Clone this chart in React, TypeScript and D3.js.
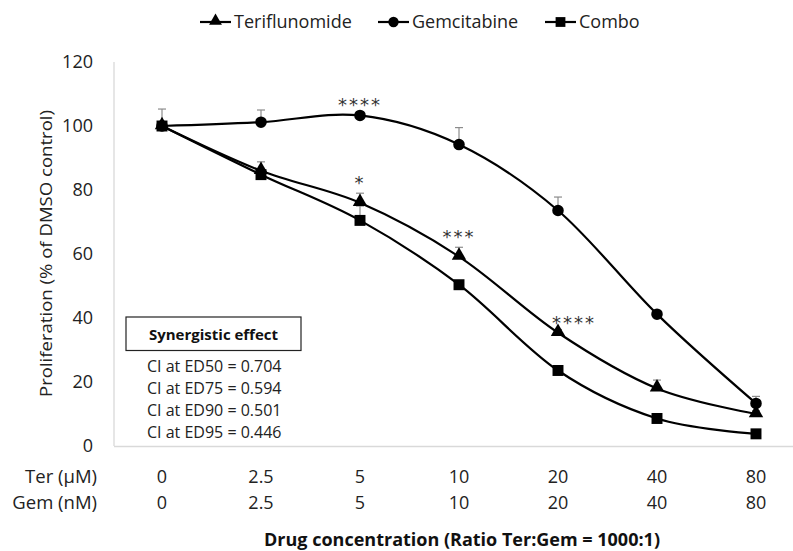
import * as d3 from "d3";
import React, { useEffect, useRef } from "react";

// dose labels (Ter in µM, Gem in nM, ratio 1000:1)
const terDoses = ["0", "2.5", "5", "10", "20", "40", "80"];
const gemDoses = ["0", "2.5", "5", "10", "20", "40", "80"];
const yTicks = [0, 20, 40, 60, 80, 100, 120];

// proliferation, % of DMSO control
const teriflunomide = [100, 86, 76, 59.2, 35.4, 18, 10];
const gemcitabine = [100, 101.2, 103.3, 94.2, 73.6, 41.2, 13.3];
const combo = [100, 84.8, 70.5, 50.4, 23.6, 8.6, 3.8];

// upper error bars (SD)
const terErr = [0, 2.8, 3, 2.9, 1, 2.6, 1];
const gemErr = [5.3, 3.8, 0.5, 5.3, 4.2, 0.8, 2.2];
const comboErr = [0.8, 0.8, 4.5, 0.8, 0.8, 0.8, 0.8];

const seriesNames = ["Teriflunomide", "Gemcitabine", "Combo"];

// significance marks: [doseIndex, value anchor, text, dx]
const stars: [number, number, string, number][] = [
    [2, 103.3, "****", 0],
    [2, 79, "*", 0],
    [3, 62.1, "***", 0],
    [4, 35.4, "****", 16],
];

const ciLines = [
    "CI at ED50 = 0.704",
    "CI at ED75 = 0.594",
    "CI at ED90 = 0.501",
    "CI at ED95 = 0.446",
];

const W = 793;
const H = 551;
const FONT = "'Open Sans', Lato, sans-serif";

export default function App() {
    const ref = useRef<SVGSVGElement>(null);

    useEffect(() => {
        const svg = d3.select(ref.current);
        svg.selectAll("*").remove();

        const x = d3.scaleBand().domain(terDoses.map((_, i) => String(i))).range([112.5, 805.5]);
        const cx = (i: number) => (x(String(i)) as number) + x.bandwidth() / 2;
        const y = d3.scaleLinear().domain([0, 120]).range([446, 62]);

        const g = svg.append("g");

        // axes
        g.append("line")
            .attr("x1", 114).attr("x2", 114)
            .attr("y1", y(120)).attr("y2", y(0))
            .attr("stroke", "#d9d9d9").attr("stroke-width", 1.3);
        g.append("line")
            .attr("x1", 114).attr("x2", W)
            .attr("y1", y(0) + 0.5).attr("y2", y(0) + 0.5)
            .attr("stroke", "#d9d9d9").attr("stroke-width", 1.3);

        g.selectAll(null)
            .data(yTicks)
            .enter()
            .append("text")
            .attr("x", 93)
            .attr("y", (d) => y(d))
            .attr("dy", "0.35em")
            .attr("text-anchor", "end")
            .style("font-size", "18px")
            .style("font-family", FONT)
            .attr("fill", "#222")
            .text((d) => d);

        g.append("text")
            .attr("transform", `translate(52, 253.5) rotate(-90)`)
            .attr("text-anchor", "middle")
            .attr("textLength", 287)
            .attr("lengthAdjust", "spacingAndGlyphs")
            .style("font-size", "16px")
            .style("font-family", FONT)
            .attr("fill", "#222")
            .text("Proliferation (% of DMSO control)");

        // dose rows
        const rows: [string, string[], number][] = [
            ["Ter (µM)", terDoses, 483],
            ["Gem (nM)", gemDoses, 509],
        ];
        rows.forEach(([label, vals, yy]) => {
            g.append("text")
                .attr("x", 97).attr("y", yy)
                .attr("text-anchor", "end")
                .style("font-size", "18.5px")
                .style("font-family", FONT)
                .attr("fill", "#222")
                .text(label);
            g.selectAll(null)
                .data(vals)
                .enter()
                .append("text")
                .attr("x", (_, i) => cx(i))
                .attr("y", yy)
                .attr("text-anchor", "middle")
                .style("font-size", "18px")
                .style("font-family", FONT)
                .attr("fill", "#222")
                .text((d) => d);
        });

        g.append("text")
            .attr("x", 462).attr("y", 546)
            .attr("text-anchor", "middle")
            .style("font-size", "18px")
            .style("font-weight", "bold")
            .style("font-family", FONT)
            .attr("fill", "#111")
            .text("Drug concentration (Ratio Ter:Gem = 1000:1)");

        // error bars
        const allSeries = [
            { name: seriesNames[0], vals: teriflunomide, err: terErr, sym: d3.symbolTriangle },
            { name: seriesNames[1], vals: gemcitabine, err: gemErr, sym: d3.symbolCircle },
            { name: seriesNames[2], vals: combo, err: comboErr, sym: d3.symbolSquare },
        ];

        allSeries.forEach((s) => {
            const eb = g.append("g").attr("stroke", "#8c8c8c").attr("stroke-width", 1.2);
            s.vals.forEach((v, i) => {
                if (s.err[i] <= 0) return;
                eb.append("line")
                    .attr("x1", cx(i)).attr("x2", cx(i))
                    .attr("y1", y(v)).attr("y2", y(v + s.err[i]));
                eb.append("line")
                    .attr("x1", cx(i) - 4).attr("x2", cx(i) + 4)
                    .attr("y1", y(v + s.err[i])).attr("y2", y(v + s.err[i]));
            });
        });

        // smooth lines
        const line = d3
            .line<number>()
            .x((_, i) => cx(i))
            .y((d) => y(d))
            .curve(d3.curveCardinal.tension(0));

        allSeries.forEach((s) => {
            g.append("path")
                .attr("d", line(s.vals))
                .attr("fill", "none")
                .attr("stroke", "#000")
                .attr("stroke-width", 2.2);
        });

        const symSize = (sym: d3.SymbolType) =>
            sym === d3.symbolCircle ? 105 : sym === d3.symbolSquare ? 120 : 90;

        allSeries.forEach((s) => {
            g.selectAll(null)
                .data(s.vals)
                .enter()
                .append("path")
                .attr("transform", (d, i) => `translate(${cx(i)},${y(d) - (s.sym === d3.symbolTriangle ? 1 : 0)})`)
                .attr("d", d3.symbol().type(s.sym).size(symSize(s.sym))())
                .attr("fill", "#000");
        });

        // significance stars
        g.selectAll(null)
            .data(stars)
            .enter()
            .append("text")
            .attr("x", (d) => cx(d[0]) + d[3])
            .attr("y", (d) => y(d[1]) - 4)
            .attr("text-anchor", "middle")
            .style("font-size", "18px")
            .style("font-family", "'DejaVu Sans', sans-serif")
            .style("letter-spacing", "2px")
            .attr("fill", "#333")
            .text((d) => d[2]);

        // synergy box
        g.append("rect")
            .attr("x", 126).attr("y", 317)
            .attr("width", 175).attr("height", 33.5)
            .attr("fill", "#fff").attr("stroke", "#222").attr("stroke-width", 1.2);
        g.append("text")
            .attr("x", 213.5).attr("y", 340)
            .attr("text-anchor", "middle")
            .style("font-size", "15px")
            .style("font-weight", "bold")
            .style("font-family", FONT)
            .attr("fill", "#111")
            .text("Synergistic effect");
        g.selectAll(null)
            .data(ciLines)
            .enter()
            .append("text")
            .attr("x", 147)
            .attr("y", (_, i) => 372 + i * 21.9)
            .style("font-size", "16px")
            .style("font-family", FONT)
            .attr("fill", "#222")
            .text((d) => d);

        // legend
        const legendX = [200, 378, 545];
        const legend = g.append("g");
        allSeries.forEach((s, i) => {
            const lg = legend.append("g").attr("transform", `translate(${legendX[i]}, 22)`);
            lg.append("line").attr("x1", 0).attr("x2", 31).attr("stroke", "#000").attr("stroke-width", 2.2);
            lg.append("path")
                .attr("transform", `translate(15.5,${s.sym === d3.symbolTriangle ? -1 : 0})`)
                .attr("d", d3.symbol().type(s.sym).size(symSize(s.sym) * 0.8)())
                .attr("fill", "#000");
            lg.append("text")
                .attr("x", 34)
                .attr("dy", "0.35em")
                .style("font-size", "18px")
                .style("font-family", FONT)
                .attr("fill", "#222")
                .text(s.name);
        });
    }, []);

    return (
        <div style={{ position: "absolute", left: 0, top: 0 }}>
            <svg ref={ref} width={W} height={H} style={{ display: "block", background: "#fff" }} />
        </div>
    );
}
